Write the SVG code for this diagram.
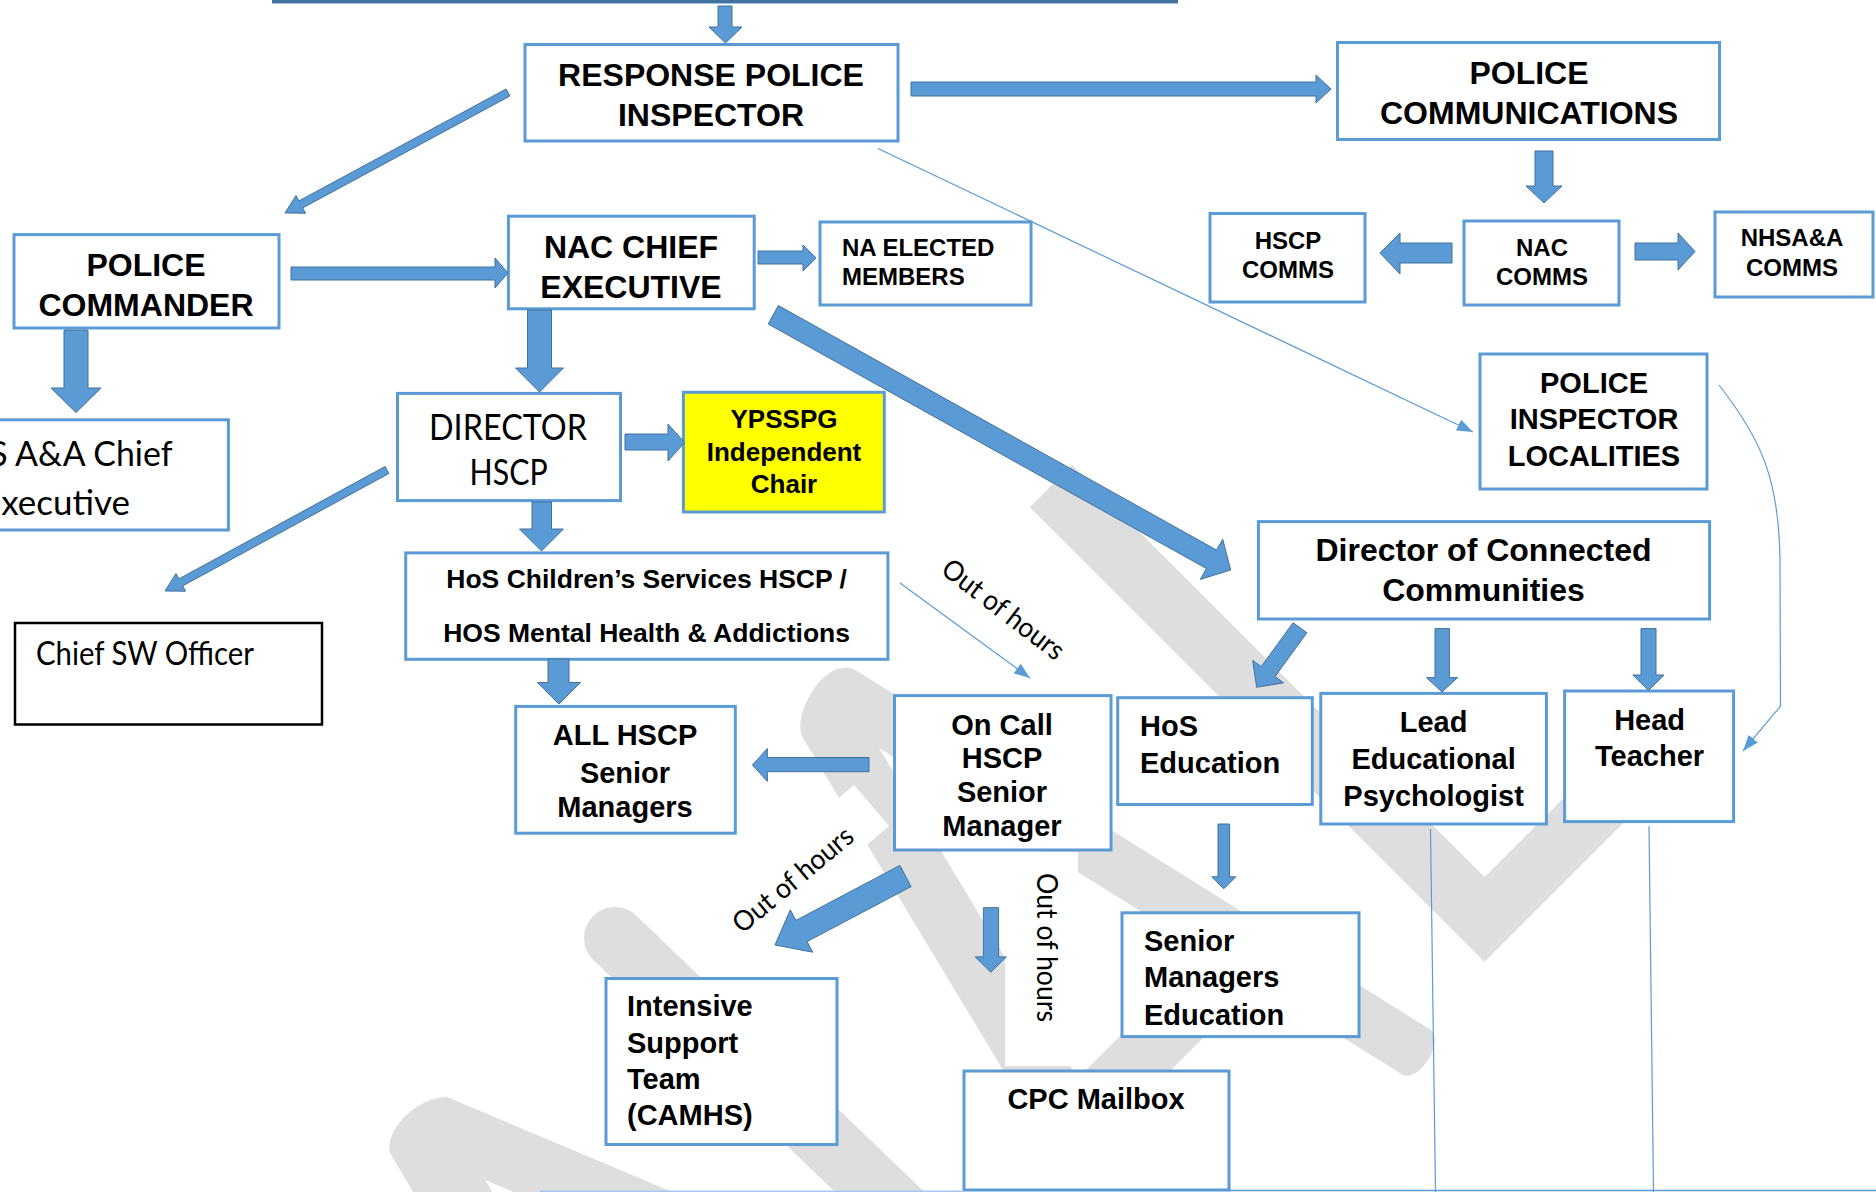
<svg xmlns="http://www.w3.org/2000/svg" width="1876" height="1192" viewBox="0 0 1876 1192">
<defs>
<style>
.box{fill:#fff;stroke:#5B9BD5;stroke-width:3}
.arr{fill:#5B9BD5;stroke:#41719C;stroke-width:1}
.thin{fill:none;stroke:#5B9BD5;stroke-width:1.2}
.b{font-family:"Liberation Sans",Arial,sans-serif;font-weight:bold;fill:#000}
.c{font-family:Lato,"Liberation Sans",sans-serif;fill:#000}
.wm{fill:#DEDEDE}
.mid{text-anchor:middle}
</style>
<marker id="tri" viewBox="0 0 16 12" refX="16" refY="6" markerWidth="16" markerHeight="12" markerUnits="userSpaceOnUse" orient="auto">
<path d="M0,0 L16,6 L0,12 z" fill="#5B9BD5"/>
</marker>
</defs>
<rect width="1876" height="1192" fill="#fff"/>

<g id="watermark">
<path d="M1051,486 L1484.5,919.5 L1640,764" fill="none" stroke="#DEDEDE" stroke-width="60" stroke-linejoin="miter"/>
<path class="wm" d="M803,738 C790,716 827,652 857,671 L1431,1030 C1445,1040 1420,1082 1403,1075 L879,748 L1091,1100 L1021,1100 Z"/>
<polygon class="wm" points="1040,1116 1229,927 1271,970 1090,1151"/>
<line x1="615" y1="938" x2="935" y2="1245" stroke="#DEDEDE" stroke-width="62" stroke-linecap="round"/>
<path class="wm" d="M390,1153 C385,1128 418,1097 447,1097 L720,1212 L561,1212 L485,1180 L505,1212 L425,1212 Z"/>
<rect x="1005" y="852" width="73" height="214" fill="#fff"/>
<polygon points="854,785 889,826 737,956 702,915" fill="#fff"/>
</g>

<g id="top-line">
<rect x="272" y="0" width="906" height="3" fill="#41719C"/>
<rect x="272" y="3" width="906" height="1" fill="#9DC3E6"/>
</g>

<g id="n-rpi"><rect class="box" x="525" y="44.5" width="373" height="96.5"/>
<text class="b mid" font-size="32" x="711" y="86">RESPONSE POLICE</text>
<text class="b mid" font-size="32" x="711" y="125.5">INSPECTOR</text></g>

<g id="n-pcomms"><rect class="box" x="1337.5" y="42.5" width="382" height="97"/>
<text class="b mid" font-size="32" x="1529" y="84">POLICE</text>
<text class="b mid" font-size="32" x="1529" y="124">COMMUNICATIONS</text></g>

<g id="n-pcommander"><rect class="box" x="14" y="234.6" width="265" height="93.4"/>
<text class="b mid" font-size="32" x="146" y="275.5">POLICE</text>
<text class="b mid" font-size="32" x="146" y="315.7">COMMANDER</text></g>

<g id="n-nacchief"><rect class="box" x="508.4" y="216.2" width="245.8" height="92.6"/>
<text class="b mid" font-size="32" x="631" y="258">NAC CHIEF</text>
<text class="b mid" font-size="32" x="631" y="298">EXECUTIVE</text></g>

<g id="n-naelected"><rect class="box" x="820" y="222" width="211" height="83"/>
<text class="b" font-size="24" x="842" y="256.4">NA ELECTED</text>
<text class="b" font-size="24" x="842" y="285">MEMBERS</text></g>

<g id="n-hscpcomms"><rect class="box" x="1210" y="213.5" width="155" height="88.5"/>
<text class="b mid" font-size="24" x="1288" y="249">HSCP</text>
<text class="b mid" font-size="24" x="1288" y="277.5">COMMS</text></g>

<g id="n-naccomms"><rect class="box" x="1464" y="221" width="155" height="84"/>
<text class="b mid" font-size="24" x="1542" y="255.6">NAC</text>
<text class="b mid" font-size="24" x="1542" y="285">COMMS</text></g>

<g id="n-nhscomms"><rect class="box" x="1715" y="212" width="158" height="85"/>
<text class="b mid" font-size="24" x="1792" y="246">NHSA&amp;A</text>
<text class="b mid" font-size="24" x="1792" y="275.5">COMMS</text></g>

<g id="n-pil"><rect class="box" x="1480" y="354" width="227" height="135"/>
<text class="b mid" font-size="29" x="1594" y="393">POLICE</text>
<text class="b mid" font-size="29" x="1594" y="429">INSPECTOR</text>
<text class="b mid" font-size="29" x="1594" y="466">LOCALITIES</text></g>

<g id="n-nhsaa"><rect class="box" x="-130" y="419.8" width="358.4" height="110.2"/>
<text class="c mid" font-size="35" x="55" y="466" textLength="235" lengthAdjust="spacingAndGlyphs">NHS A&amp;A Chief</text>
<text class="c mid" font-size="35" x="55.5" y="515" textLength="149" lengthAdjust="spacingAndGlyphs">Executive</text></g>

<g id="n-director"><rect class="box" x="397.5" y="393.4" width="223" height="107.2"/>
<text class="c mid" font-size="36" x="508" y="440" textLength="158" lengthAdjust="spacingAndGlyphs">DIRECTOR</text>
<text class="c mid" font-size="36" x="508.6" y="485" textLength="78" lengthAdjust="spacingAndGlyphs">HSCP</text></g>

<g id="n-ypsspg"><rect x="683.4" y="392.3" width="200.9" height="119.7" fill="#FFFF00" stroke="#5B9BD5" stroke-width="3"/>
<text class="b mid" font-size="26" x="784" y="428">YPSSPG</text>
<text class="b mid" font-size="26" x="784" y="461">Independent</text>
<text class="b mid" font-size="26" x="784" y="493">Chair</text></g>

<g id="n-hos"><rect class="box" x="405.7" y="552.9" width="482.2" height="106.4"/>
<text class="b mid" font-size="26.5" x="646.6" y="588">HoS Children’s Services HSCP /</text>
<text class="b mid" font-size="26.5" x="646.6" y="642">HOS Mental Health &amp; Addictions</text></g>

<g id="n-chiefsw"><rect x="15" y="623" width="307" height="101.5" fill="#fff" stroke="#000" stroke-width="2.5"/>
<text class="c" font-size="33" x="36" y="665" textLength="218" lengthAdjust="spacingAndGlyphs">Chief SW Officer</text></g>

<g id="n-allhscp"><rect class="box" x="515.7" y="706.4" width="219.6" height="126.8"/>
<text class="b mid" font-size="29" x="625" y="745">ALL HSCP</text>
<text class="b mid" font-size="29" x="625" y="782.5">Senior</text>
<text class="b mid" font-size="29" x="625" y="817">Managers</text></g>

<g id="n-oncall"><rect class="box" x="894.5" y="695.6" width="216.5" height="154.4"/>
<text class="b mid" font-size="29" x="1002" y="735.3">On Call</text>
<text class="b mid" font-size="29" x="1002" y="768">HSCP</text>
<text class="b mid" font-size="29" x="1002" y="801.8">Senior</text>
<text class="b mid" font-size="29" x="1002" y="835.8">Manager</text></g>

<g id="n-hosed"><rect class="box" x="1117.7" y="697.7" width="194.6" height="106.8"/>
<text class="b" font-size="29" x="1140" y="736">HoS</text>
<text class="b" font-size="29" x="1140" y="772.7">Education</text></g>

<g id="n-dcc"><rect class="box" x="1258.4" y="521.6" width="451.2" height="97.4"/>
<text class="b mid" font-size="32" x="1483.5" y="561">Director of Connected</text>
<text class="b mid" font-size="32" x="1483.5" y="600.8">Communities</text></g>

<g id="n-lep"><rect class="box" x="1320.8" y="693.4" width="225.6" height="130.6"/>
<text class="b mid" font-size="29" x="1433.6" y="731.8">Lead</text>
<text class="b mid" font-size="29" x="1433.6" y="768.8">Educational</text>
<text class="b mid" font-size="29" x="1433.6" y="805.8">Psychologist</text></g>

<g id="n-head"><rect class="box" x="1564.6" y="691" width="169" height="130.6"/>
<text class="b mid" font-size="29" x="1649.6" y="730.4">Head</text>
<text class="b mid" font-size="29" x="1649.6" y="766.4">Teacher</text></g>

<g id="n-smed"><rect class="box" x="1122" y="912.8" width="237" height="123.8"/>
<text class="b" font-size="29" x="1144" y="951">Senior</text>
<text class="b" font-size="29" x="1144" y="987">Managers</text>
<text class="b" font-size="29" x="1144" y="1024.6">Education</text></g>

<g id="n-ist"><rect class="box" x="606" y="978.5" width="231" height="166"/>
<text class="b" font-size="29" x="627" y="1016">Intensive</text>
<text class="b" font-size="29" x="627" y="1052.5">Support</text>
<text class="b" font-size="29" x="627" y="1089">Team</text>
<text class="b" font-size="29" x="627" y="1125">(CAMHS)</text></g>

<g id="n-cpc"><rect class="box" x="964" y="1071" width="265" height="119"/>
<text class="b mid" font-size="29" x="1096" y="1109">CPC Mailbox</text></g>

<g id="connectors">
<polygon class="arr" points="718,6 732,6 732,27 742,27 725.5,43 709,27 718,27"/>
<polygon class="arr" points="911,82 1316,82 1316,75 1331,89 1316,103 1316,96 911,96"/>
<polygon class="arr" points="1535,151 1553,151 1553,186 1562,186 1544,203 1526,186 1535,186"/>
<polygon class="arr" points="1452,243 1400,243 1400,233 1380,253 1400,274 1400,263 1452,263"/>
<polygon class="arr" points="1635,243 1678,243 1678,233 1695,251.5 1678,270 1678,260 1635,260"/>
<polygon class="arr" points="506.1,89 298.9,200.9 296,195.6 285,213 305.6,213.2 302.7,207.9 509.9,96"/>
<polygon class="arr" points="291,267 495,267 495,258 508,273 495,288 495,280 291,280"/>
<polygon class="arr" points="758,251 803,251 803,245 816,258 803,271 803,264 758,264"/>
<polygon class="arr" points="64,330 88,330 88,388 101,388 76,412.5 51,388 64,388"/>
<polygon class="arr" points="527.5,310 551.5,310 551.5,368 563.5,368 539.5,392 515.5,368 527.5,368"/>
<polygon class="arr" points="625,434 668,434 668,424 684.6,442.5 668,461 668,450 625,450"/>
<polygon class="arr" points="385.1,466.5 178.9,578.9 176,573.6 165,591 185.6,591.2 182.7,585.9 388.9,473.5"/>
<polygon class="arr" points="532,502 551.5,502 551.5,529 563.5,529 541.5,551 519.5,529 532,529"/>
<polygon class="arr" points="548,659 569,659 569,682.5 580.5,682.5 559,704 537.5,682.5 548,682.5"/>
<polygon class="arr" points="869,757.5 767.4,757.5 767.4,748.5 752.4,765 767.4,781.4 767.4,771.7 869,771.7"/>
<polygon class="arr" points="778.4,305.6 1216.6,550.1 1222.7,539.2 1230.7,570 1200.3,579.4 1206.4,568.5 768.2,324"/>
<polygon class="arr" points="899.9,865.4 795.9,920.4 790.3,909.8 775,945 812.7,952.2 807.1,941.6 911.1,886.6"/>
<polygon class="arr" points="983.4,907.7 998.6,907.7 998.6,956.9 1006.4,956.9 990.8,972.2 975.2,956.9 983.4,956.9"/>
<polygon class="arr" points="1293.1,622.7 1261.2,666.6 1252.7,660.4 1256.7,687.3 1283.5,682.8 1275,676.6 1306.9,632.7"/>
<polygon class="arr" points="1435,628.6 1449.4,628.6 1449.4,677.6 1457.6,677.6 1442,692 1426.4,677.6 1435,677.6"/>
<polygon class="arr" points="1641,628.6 1656,628.6 1656,675 1664,675 1648.4,690.6 1632.8,675 1641,675"/>
<polygon class="arr" points="1218,824 1229.6,824 1229.6,876.8 1235.8,876.8 1223.8,888.8 1211.8,876.8 1218,876.8"/>
<line class="thin" x1="878" y1="148.5" x2="1473" y2="432" marker-end="url(#tri)"/>
<line class="thin" x1="900" y1="583" x2="1030" y2="678" marker-end="url(#tri)"/>
<path class="thin" d="M1719,385 C1762,440 1779,480 1780,560 L1780.5,706 L1743,751" marker-end="url(#tri)"/>
<line class="thin" x1="1430.5" y1="829" x2="1435.5" y2="1192"/>
<line class="thin" x1="1649" y1="826" x2="1653.5" y2="1192"/>
<line x1="540" y1="1191.3" x2="964" y2="1191.3" stroke="#A9C8E8" stroke-width="1.5"/>
<line x1="1229" y1="1190.6" x2="1876" y2="1190.6" stroke="#5B9BD5" stroke-width="1.5"/>
<text class="c mid" font-size="28" transform="translate(997.5,617) rotate(37.5)" textLength="146" lengthAdjust="spacingAndGlyphs">Out of hours</text>
<text class="c mid" font-size="28" transform="translate(799,887) rotate(-40)" textLength="148" lengthAdjust="spacingAndGlyphs">Out of hours</text>
<text class="c" font-size="28" transform="translate(1037,873) rotate(90)" textLength="149" lengthAdjust="spacingAndGlyphs">Out of hours</text>
</g>
</svg>
